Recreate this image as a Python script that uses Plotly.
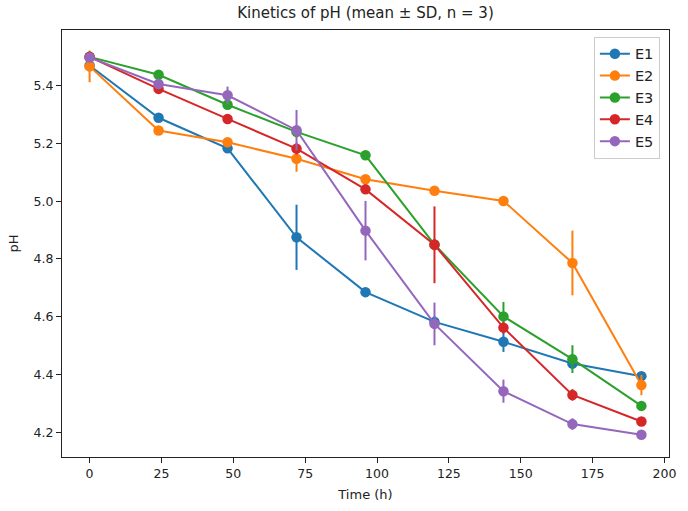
import plotly.graph_objects as go

time_h = [0, 24, 48, 72, 96, 120, 144, 168, 192]
series_names = ["E1", "E2", "E3", "E4", "E5"]
colors = ["#1f77b4", "#ff7f0e", "#2ca02c", "#d62728", "#9467bd"]

e1_mean = [5.47, 5.289, 5.183, 4.875, 4.685, 4.582, 4.513, 4.438, 4.394]
e1_sd = [0.02, 0.01, 0.01, 0.113, 0.01, 0.02, 0.035, 0.02, 0.01]
e2_mean = [5.467, 5.245, 5.204, 5.147, 5.076, 5.036, 5.001, 4.786, 4.363]
e2_sd = [0.055, 0.01, 0.01, 0.045, 0.01, 0.01, 0.01, 0.112, 0.035]
e3_mean = [5.50, 5.438, 5.334, 5.24, 5.159, 4.85, 4.601, 4.453, 4.291]
e3_sd = [0.01, 0.01, 0.01, 0.02, 0.01, 0.02, 0.05, 0.048, 0.01]
e4_mean = [5.50, 5.389, 5.285, 5.182, 5.041, 4.849, 4.562, 4.329, 4.237]
e4_sd = [0.01, 0.01, 0.01, 0.02, 0.01, 0.133, 0.02, 0.02, 0.01]
e5_mean = [5.498, 5.406, 5.367, 5.246, 4.898, 4.575, 4.342, 4.228, 4.191]
e5_sd = [0.01, 0.01, 0.03, 0.07, 0.103, 0.074, 0.04, 0.02, 0.01]

means = [e1_mean, e2_mean, e3_mean, e4_mean, e5_mean]
sds = [e1_sd, e2_sd, e3_sd, e4_sd, e5_sd]

x_ticks = [0, 25, 50, 75, 100, 125, 150, 175, 200]
y_ticks = [4.2, 4.4, 4.6, 4.8, 5.0, 5.2, 5.4]

fig = go.Figure()
for name, c, m, s in zip(series_names, colors, means, sds):
    fig.add_trace(go.Scatter(
        x=time_h, y=m, name=name, mode="lines+markers",
        line=dict(color=c, width=2),
        marker=dict(color=c, size=10.5, symbol="circle"),
        error_y=dict(type="data", array=s, visible=True, color=c, thickness=2, width=0),
    ))

font_family = "DejaVu Sans"
fig.update_layout(
    width=688, height=511,
    margin=dict(l=61.5, r=14, t=30, b=52),
    paper_bgcolor="white", plot_bgcolor="white",
    font=dict(family=font_family, size=12.5, color="#222"),
    title=dict(text="Kinetics of pH (mean ± SD, n = 3)", x=0.5, xref="paper", xanchor="center",
               y=1 - 13 / 511, yanchor="middle", font=dict(size=15, color="#222")),
    showlegend=True,
    legend=dict(x=0.985, y=0.984, xanchor="right", yanchor="top",
                bgcolor="rgba(255,255,255,0.8)", bordercolor="#cccccc", borderwidth=1,
                font=dict(size=14.5), itemwidth=30, tracegroupgap=0),
    xaxis=dict(range=[-9.6, 201.6], tickvals=x_ticks, ticks="outside", ticklen=5,
               tickcolor="#222", showgrid=False, zeroline=False, showline=True,
               linecolor="#222", linewidth=1, mirror=True,
               title=dict(text="Time (h)", standoff=9, font=dict(size=13))),
    yaxis=dict(range=[4.114, 5.593], tickvals=y_ticks, tickformat=".1f", ticks="outside",
               ticklen=5, tickcolor="#222", showgrid=False, zeroline=False, showline=True,
               linecolor="#222", linewidth=1, mirror=True,
               title=dict(text="pH", standoff=12, font=dict(size=13))),
)
fig.write_html("out.html")
